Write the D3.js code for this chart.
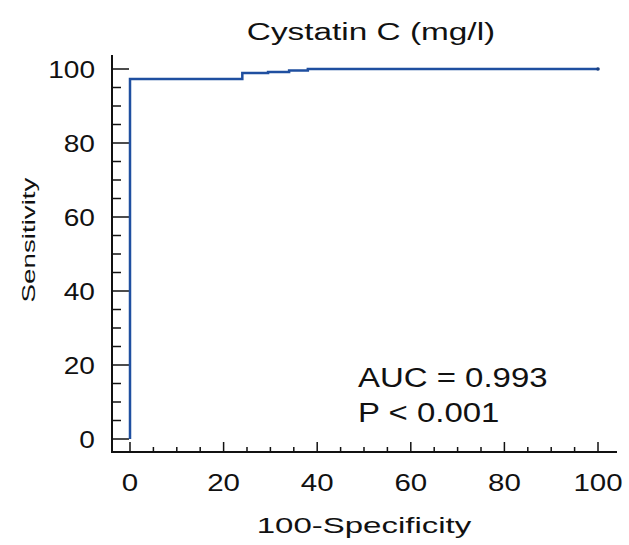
<!DOCTYPE html>
<html>
<head>
<meta charset="utf-8">
<script src="https://cdn.jsdelivr.net/npm/d3@7"></script>
<style>
  body { margin: 0; background: #fff; }
  text { font-family: "Liberation Sans", Arial, sans-serif; fill: #111; }
</style>
</head>
<body>
<div id="chart"></div>
<script>
// ROC curve points (100-Specificity, Sensitivity)
const fpr = [0, 0, 24, 29.5, 34, 38, 100];
const sens = [0, 97.3, 98.9, 99.2, 99.6, 100, 100];
const majorTicks = [0, 20, 40, 60, 80, 100];
const minorTicks = d3.range(0, 101, 5);
const chartTitle = 'Cystatin C (mg/l)';
const xTitle = '100-Specificity';
const yTitle = 'Sensitivity';
const notes = ['AUC = 0.993', 'P < 0.001'];

const svg = d3.select('#chart').append('svg')
    .attr('width', 629)
    .attr('height', 545);

const x = d3.scaleLinear().domain([0, 100]).range([130, 598]);
const y = d3.scaleLinear().domain([0, 100]).range([439, 69]);

// the source picture is stretched sideways, so stretch the text to match
function stretch(sel, k) {
    sel.each(function () {
        const w = this.getComputedTextLength();
        d3.select(this).attr('textLength', w * k).attr('lengthAdjust', 'spacingAndGlyphs');
    });
}

// axis frame
svg.append('line').attr('x1', 112).attr('x2', 112).attr('y1', 55).attr('y2', 453)
    .attr('stroke', '#111').attr('stroke-width', 2);
svg.append('line').attr('x1', 111).attr('x2', 617).attr('y1', 452).attr('y2', 452)
    .attr('stroke', '#111').attr('stroke-width', 2);

// y ticks (pointing inwards)
svg.selectAll('.ytick').data(minorTicks).enter().append('line')
    .attr('x1', 112)
    .attr('x2', d => majorTicks.includes(d) ? 129 : 121)
    .attr('y1', d => y(d)).attr('y2', d => y(d))
    .attr('stroke', '#111').attr('stroke-width', 1.5);

// x ticks
svg.selectAll('.xtick').data(minorTicks).enter().append('line')
    .attr('x1', d => x(d)).attr('x2', d => x(d))
    .attr('y1', 452)
    .attr('y2', d => majorTicks.includes(d) ? 442 : 447)
    .attr('stroke', '#111').attr('stroke-width', 1.5);

// tick labels
svg.selectAll('.ylab').data(majorTicks).enter().append('text')
    .attr('x', 95).attr('y', d => y(d) + 8.5)
    .attr('text-anchor', 'end')
    .style('font-size', '23px')
    .text(d => d)
    .call(stretch, 1.22);

svg.selectAll('.xlab').data(majorTicks).enter().append('text')
    .attr('x', d => x(d)).attr('y', 491)
    .attr('text-anchor', 'middle')
    .style('font-size', '23px')
    .text(d => d)
    .call(stretch, 1.28);

// titles
svg.append('text')
    .attr('x', 371).attr('y', 40)
    .attr('text-anchor', 'middle')
    .style('font-size', '23px')
    .text(chartTitle)
    .call(stretch, 1.45);

svg.append('text')
    .attr('x', 364).attr('y', 533)
    .attr('text-anchor', 'middle')
    .style('font-size', '22px')
    .text(xTitle)
    .call(stretch, 1.5);

svg.append('text')
    .attr('transform', 'translate(35,240) rotate(-90)')
    .attr('text-anchor', 'middle')
    .style('font-size', '18px')
    .text(yTitle)
    .call(stretch, 1.54);

// AUC note
svg.selectAll('.note').data(notes).enter().append('text')
    .attr('x', 358).attr('y', (d, i) => 387 + i * 35)
    .style('font-size', '27px')
    .text(d => d)
    .call(stretch, 1.22);

// ROC curve
const line = d3.line()
    .x((d, i) => x(fpr[i]))
    .y(d => y(d))
    .curve(d3.curveStepAfter);

svg.append('path')
    .datum(sens)
    .attr('d', line)
    .attr('fill', 'none')
    .attr('stroke', '#1f4fa0')
    .attr('stroke-width', 2.5);

svg.append('circle')
    .attr('cx', x(100)).attr('cy', y(100))
    .attr('r', 1.8)
    .attr('fill', '#1a3f80');
</script>
</body>
</html>
